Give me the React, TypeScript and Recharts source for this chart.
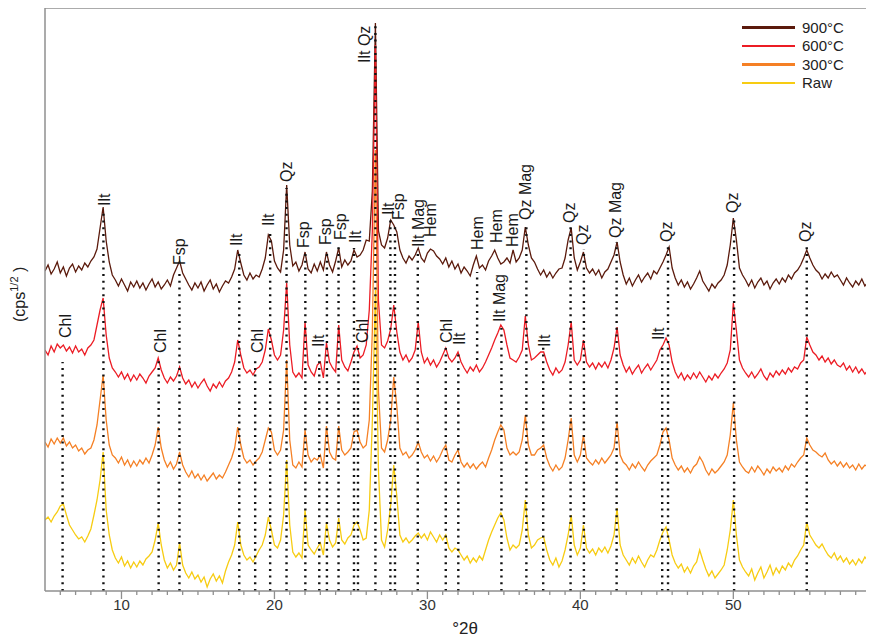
import React from 'react';
import { LineChart, Line, XAxis, YAxis, ReferenceLine, ReferenceDot, Legend } from 'recharts';

// 2θ sampling of the scans, 0.2° step from 5° to 59°
const TWO_THETA: number[] = Array.from({ length: 271 }, (_, i) => Math.round((5 + i * 0.2) * 10) / 10);

// stacked intensities (offset per temperature), one value per 2θ step
const T900 = [
  320, 326, 317, 322, 329, 318, 324, 315, 323, 327,
  319, 325, 321, 328, 324, 330, 334, 342, 363, 384,
  350, 329, 316, 311, 305, 312, 306, 300, 309, 304,
  310, 303, 308, 301, 307, 312, 304, 309, 302, 306,
  311, 305, 316, 323, 330, 318, 312, 306, 301, 308,
  303, 309, 300, 306, 311, 302, 307, 299, 305, 310,
  308, 314, 322, 341, 328, 316, 311, 318, 312, 316,
  314, 322, 333, 356, 350, 330, 323, 319, 341, 406,
  346, 325, 329, 320, 326, 339, 322, 318, 327, 320,
  329, 321, 339, 326, 319, 330, 343, 324, 331, 326,
  330, 341, 334, 336, 341, 351, 350, 400, 568, 360,
  346, 343, 353, 371, 366, 359, 341, 333, 328, 335,
  331, 336, 343, 333, 329, 338, 342, 340, 335, 332,
  327, 333, 324, 330, 322, 327, 318, 324, 320, 315,
  326, 335, 323, 326, 321, 330, 335, 341, 333, 327,
  329, 333, 328, 341, 329, 333, 341, 364, 346, 333,
  329, 322, 316, 321, 314, 319, 313, 318, 322, 323,
  333, 351, 363, 333, 321, 329, 339, 323, 318, 322,
  316, 321, 313, 319, 322, 329, 336, 349, 329, 316,
  307, 313, 305, 311, 316, 309, 314, 318, 312, 320,
  317, 323, 329, 336, 344, 323, 313, 306, 311, 304,
  309, 302, 307, 313, 320, 310, 305, 300, 307, 303,
  308, 311, 316, 326, 346, 373, 351, 323, 316, 311,
  305, 311, 303, 309, 313, 306, 310, 302, 308, 312,
  307, 313, 309, 316, 312, 318, 321, 326, 333, 341,
  333, 326, 321, 318, 312, 317, 313, 319, 314, 316,
  311, 306, 313, 308, 304, 310, 306, 312, 305, 309,
  307,
];

const T600 = [
  241, 236, 245, 239, 247, 243, 246, 240, 244, 238,
  245, 239, 242, 236, 243, 246, 251, 266, 281, 293,
  256, 233, 223, 219, 214, 219, 212, 217, 210, 216,
  211, 217, 213, 208, 215, 219, 223, 233, 221, 213,
  208, 214, 210, 215, 224, 213, 207, 211, 204, 209,
  203, 208, 212, 205, 200, 207, 203, 209, 204, 210,
  213, 219, 229, 251, 236, 223, 218, 221, 216, 222,
  224, 229, 241, 262, 251, 236, 231, 236, 261, 308,
  246, 219, 214, 218, 213, 269, 226, 219, 215, 226,
  229, 213, 248, 229, 223, 219, 266, 231, 224, 220,
  229, 239, 245, 233, 236, 246, 281, 360, 546, 290,
  246, 243, 250, 262, 286, 259, 239, 231, 236, 229,
  233, 241, 269, 239, 228, 233, 226, 231, 224, 229,
  236, 243, 233, 229, 233, 239, 229, 223, 218, 224,
  220, 226, 219, 223, 229, 236, 243, 251, 258, 266,
  261, 246, 233, 231, 229, 234, 241, 275, 246, 231,
  233, 236, 239, 239, 229, 221, 216, 223, 218, 221,
  229, 246, 269, 231, 226, 231, 251, 229, 224, 228,
  222, 228, 224, 229, 223, 231, 243, 264, 236, 226,
  219, 224, 217, 222, 226, 218, 223, 227, 221, 226,
  231, 241, 246, 253, 246, 229, 219, 213, 218, 211,
  216, 212, 218, 213, 219, 214, 209, 215, 211, 217,
  213, 218, 222, 228, 241, 288, 261, 231, 223, 218,
  214, 219, 213, 217, 222, 215, 211, 218, 214, 220,
  216, 221, 217, 223, 219, 224, 222, 228, 231, 254,
  246, 239, 236, 231, 235, 229, 233, 227, 231, 226,
  224, 228, 221, 225, 219, 224, 218, 222, 217, 221,
  219,
];

const T300 = [
  149, 144, 152, 147, 153, 148, 153, 145, 149, 143,
  146, 140, 143, 137, 141, 143, 151, 166, 191, 216,
  171, 146, 136, 133, 128, 134, 126, 131, 124, 130,
  125, 131, 127, 133, 128, 136, 146, 164, 143, 131,
  124, 129, 122, 127, 139, 126, 119, 114, 120, 113,
  117, 111, 116, 110, 114, 118, 112, 116, 113, 119,
  126, 133, 143, 164, 146, 133, 128, 131, 126, 130,
  133, 139, 151, 163, 159, 141, 136, 141, 161, 231,
  151, 126, 123, 129, 124, 161, 136, 129, 133, 131,
  136, 123, 165, 139, 133, 131, 165, 141, 136, 139,
  143, 159, 161, 149, 143, 146, 171, 260, 441, 200,
  143, 139, 151, 171, 214, 185, 143, 136, 139, 133,
  136, 141, 149, 139, 133, 136, 130, 135, 129, 134,
  141, 146, 131, 129, 136, 141, 129, 124, 128, 123,
  127, 122, 126, 129, 124, 133, 141, 151, 159, 166,
  161, 143, 136, 139, 136, 139, 151, 176, 146, 136,
  136, 141, 143, 146, 133, 125, 120, 126, 121, 124,
  133, 151, 173, 136, 129, 136, 156, 133, 129, 126,
  131, 127, 133, 128, 132, 136, 143, 169, 136, 129,
  126, 121, 127, 123, 129, 124, 120, 126, 130, 133,
  136, 146, 159, 163, 151, 133, 126, 121, 125, 119,
  123, 118, 124, 127, 134, 129, 121, 116, 122, 118,
  121, 125, 129, 136, 156, 188, 151, 129, 124, 120,
  118, 124, 119, 125, 121, 116, 122, 118, 124, 120,
  123, 119, 125, 121, 127, 124, 129, 133, 136, 153,
  146, 141, 139, 136, 134, 138, 131, 127, 130, 125,
  129, 124, 128, 123, 126, 121, 127, 122, 126, 124,
  125,
];

const RAW = [
  71, 74, 69, 75, 79, 85, 87, 76, 66, 61,
  56, 52, 54, 49, 55, 62, 76, 91, 111, 139,
  81, 56, 41, 33, 28, 34, 25, 30, 23, 29,
  24, 30, 26, 32, 35, 39, 51, 68, 46, 31,
  23, 28, 21, 26, 48, 26, 18, 13, 19, 12,
  16, 9, 14, 4, 12, 17, 10, 15, 8, 20,
  29, 36, 46, 69, 46, 36, 31, 34, 29, 35,
  41, 46, 56, 74, 61, 46, 43, 51, 76, 131,
  66, 39, 34, 38, 33, 81, 46, 41, 37, 43,
  48, 36, 68, 51, 44, 48, 73, 51, 47, 53,
  56, 66, 69, 61, 51, 53, 81, 170, 301, 121,
  51, 44, 61, 86, 126, 95, 56, 49, 53, 48,
  51, 55, 58, 53, 57, 51, 59, 54, 49, 56,
  51, 56, 43, 39, 43, 41, 36, 31, 35, 28,
  33, 29, 35, 31, 41, 51, 59, 66, 73, 78,
  71, 53, 41, 46, 43, 46, 61, 91, 56, 43,
  46, 51, 53, 54, 41, 31, 26, 33, 24, 30,
  41, 56, 76, 46, 36, 43, 66, 43, 38, 42,
  36, 43, 39, 44, 38, 45, 56, 83, 46, 36,
  31, 26, 33, 28, 35, 29, 24, 31, 36, 34,
  41, 51, 59, 64, 51, 36, 28, 23, 27, 19,
  24, 18, 25, 29, 41, 31, 22, 15, 20, 13,
  17, 21, 26, 41, 61, 91, 56, 31, 24, 19,
  15, 22, 11, 18, 24, 13, 19, 26, 16, 23,
  18, 25, 21, 28, 24, 31, 35, 41, 46, 69,
  56, 51, 46, 43, 47, 41, 36, 33, 38, 31,
  35, 29, 33, 27, 31, 26, 32, 28, 34, 30,
  31,
];

// dotted reference lines at the phase reflections
const MARKER_2THETA = [6.15, 8.82, 12.43, 13.79, 17.7, 18.74, 19.72, 20.79, 22.02, 22.93, 23.43, 24.19, 25.2, 25.46, 26.6, 27.58, 27.88, 29.37, 31.2, 32.02, 33.25, 34.84, 36.47, 37.57, 39.36, 40.23, 42.37, 45.35, 45.73, 50.05, 54.8];
const MARKER_TOP = [229, 379, 231, 321, 339, 231, 359, 403, 339, 239, 341, 345, 343, 243, 566, 371, 366, 339, 243, 241, 319, 263, 366, 245, 365, 342, 349, 246, 345, 374, 345];
const MARKER_BOTTOM = [0, 0, 0, 0, 0, 0, 0, 0, 0, 0, 0, 0, 0, 0, 0, 0, 0, 0, 0, 0, 231, 0, 0, 0, 0, 0, 0, 0, 0, 0, 0];

// phase labels
const LABEL_TEXT = ['Ilt', 'Fsp', 'Ilt', 'Ilt', 'Qz', 'Fsp', 'Fsp', 'Fsp', 'Ilt', 'Ilt Qz', 'Ilt', 'Fsp', 'Ilt Mag', 'Hem', 'Hem', 'Hem', 'Hem', 'Qz Mag', 'Qz', 'Qz', 'Qz Mag', 'Qz', 'Qz', 'Qz',
  'Chl', 'Chl', 'Chl', 'Ilt', 'Chl', 'Chl', 'Ilt', 'Ilt Mag', 'Ilt', 'Ilt'];
const LABEL_2THETA = [8.86, 13.82, 17.55, 19.64, 20.82, 21.93, 23.37, 24.35, 25.33, 25.92, 27.48, 28.14, 29.44, 30.23, 33.3, 34.54, 35.59, 36.44, 39.31, 40.16, 42.32, 45.65, 49.97, 54.74,
  6.31, 12.52, 18.86, 22.91, 25.78, 31.27, 32.12, 34.74, 37.68, 45.13];
const LABEL_BASE = [385, 326, 345, 365, 409, 343, 346, 351, 348, 528, 376, 371, 344, 354, 341, 348, 344, 371, 368, 346, 353, 349, 378, 349,
  253, 238, 238, 244, 248, 248, 246, 269, 244, 251];

const X_TICKS = Array.from({ length: 54 }, (_, i) => i + 6);

const SERIES = [
  { key: 't900', name: '900°C', color: '#5b1a0c' },
  { key: 't600', name: '600°C', color: '#ec1c24' },
  { key: 't300', name: '300°C', color: '#f58025' },
  { key: 'raw', name: 'Raw', color: '#f7cc12' },
];

const FONT = "'Liberation Sans', Arial, sans-serif";
const AXIS = '#8f8f8f';

const data = TWO_THETA.map((x, i) => ({ x, t900: T900[i], t600: T600[i], t300: T300[i], raw: RAW[i] }));

const AxisTick = (props: any) => {
  const { x, y, payload } = props;
  const major = payload.value % 10 === 0;
  return (
    <g>
      <line x1={x} x2={x} y1={y} y2={y + (major ? 8 : 4)} stroke={AXIS} strokeWidth={1.3} />
      {major && (
        <text x={x} y={y + 19} textAnchor="middle" fontSize={15} fill="#333" fontFamily={FONT}>
          {payload.value}
        </text>
      )}
    </g>
  );
};

const renderLegend = () => (
  <div style={{ fontFamily: FONT, fontSize: 15, color: '#222' }}>
    {SERIES.map((s) => (
      <div key={s.key} style={{ display: 'flex', alignItems: 'center', height: 18.5 }}>
        <span style={{ display: 'inline-block', width: 53, height: 2.5, background: s.color, marginRight: 7 }} />
        <span>{s.name}</span>
      </div>
    ))}
  </div>
);

export default function App() {
  return (
    <div style={{ width: 874, height: 640, margin: '-8px 0 0 -8px', background: '#fff' }}>
      <LineChart width={874} height={640} data={data} margin={{ top: 8, right: 3, bottom: 0, left: 0 }}>
        <XAxis
          dataKey="x"
          type="number"
          domain={[5, 59]}
          allowDataOverflow
          ticks={X_TICKS}
          interval={0}
          tickLine={false}
          tickSize={0}
          tickMargin={0}
          tick={<AxisTick />}
          height={49}
          axisLine={{ stroke: AXIS, strokeWidth: 1.5 }}
          label={{
            content: () => (
              <text x={465} y={634} textAnchor="middle" fontSize={17} fill="#222" fontFamily={FONT}>°2θ</text>
            ),
          }}
        />
        <YAxis
          type="number"
          domain={[0, 583]}
          allowDataOverflow
          width={45}
          tick={false}
          tickLine={false}
          axisLine={{ stroke: AXIS, strokeWidth: 1.5 }}
          label={{
            content: () => (
              <text x={25} y={322} transform="rotate(-90, 25, 322)" fontSize={16} fill="#222" fontFamily={FONT}>
                (cps<tspan dy={-7} fontSize={11}>1/2</tspan><tspan dy={7}> )</tspan>
              </text>
            ),
          }}
        />
        <ReferenceLine y={583} stroke={AXIS} strokeWidth={1.5} />
        <Legend
          layout="horizontal"
          verticalAlign="middle"
          align="center"
          content={renderLegend}
          wrapperStyle={{ top: 18, left: 742, width: 120, height: 80 }}
        />
        {SERIES.map((s) => (
          <Line
            key={s.key}
            dataKey={s.key}
            name={s.name}
            stroke={s.color}
            strokeWidth={1.3}
            dot={false}
            activeDot={false}
            type="linear"
            isAnimationActive={false}
          />
        ))}
        {MARKER_2THETA.map((t, i) => (
          <ReferenceLine
            key={`m-${i}`}
            segment={[{ x: t, y: MARKER_BOTTOM[i] }, { x: t, y: MARKER_TOP[i] }]}
            stroke="#111"
            strokeWidth={2.4}
            strokeDasharray="2 4.7"
          />
        ))}
        {LABEL_TEXT.map((txt, i) => (
          <ReferenceDot
            key={`l-${i}`}
            x={LABEL_2THETA[i]}
            y={LABEL_BASE[i]}
            r={1}
            shape={(p: any) => (
              <text
                x={p.cx}
                y={p.cy}
                transform={`rotate(-90, ${p.cx}, ${p.cy})`}
                textAnchor="start"
                dominantBaseline="central"
                fontSize={16}
                fill="#1a1a1a"
                fontFamily={FONT}
              >
                {txt}
              </text>
            )}
          />
        ))}
      </LineChart>
    </div>
  );
}
